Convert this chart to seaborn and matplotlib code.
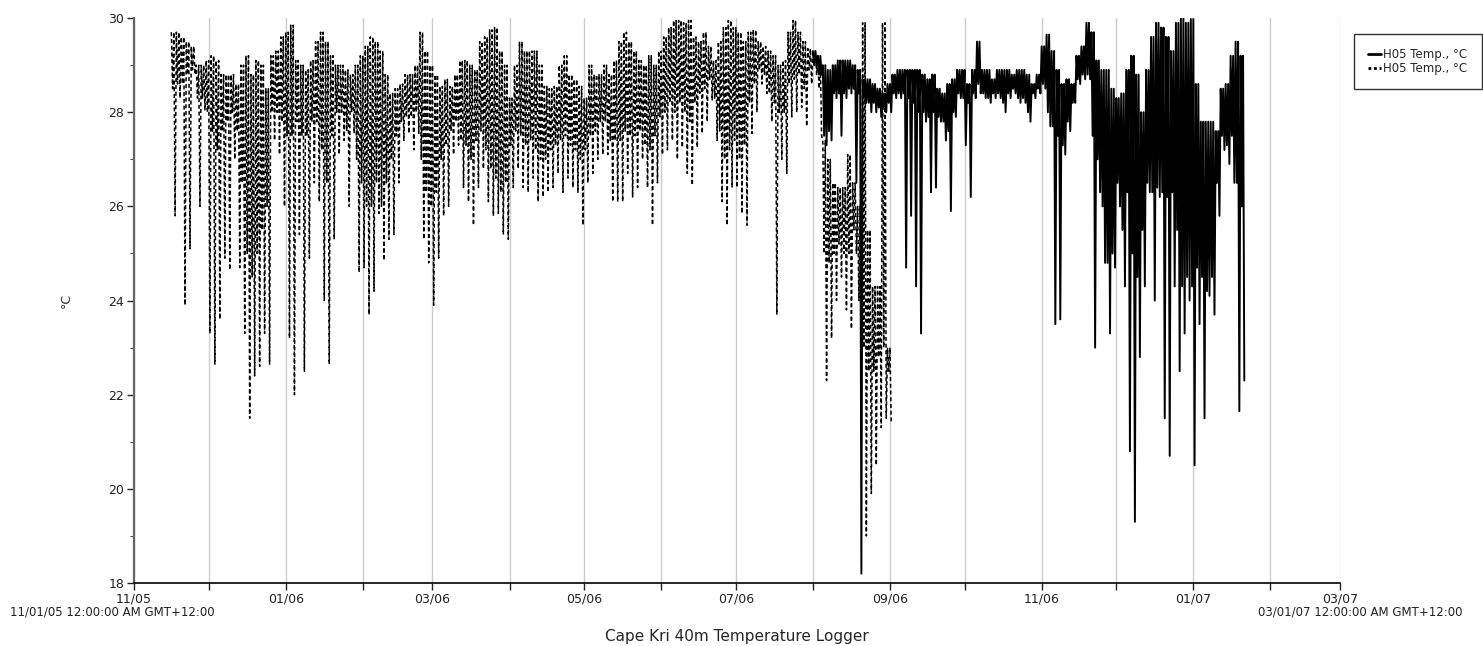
import pandas as pd
import seaborn as sns
import matplotlib.pyplot as plt
import matplotlib.dates as mdates
from matplotlib.ticker import MultipleLocator, FuncFormatter
from matplotlib.lines import Line2D

# ---------- data ----------
# one sample per 2 days: top of the band, bottom of the dense band, lowest dip (deg C)
START = pd.Timestamp("2005-11-01")

DASH_FIRST_DAY = 15  # first logger (dashed), Nov 16 2005 -> Aug 31 2006
dash_hi = [
    29.7, 29.7, 29.6, 29.5, 29.4, 29.0, 29.0, 29.1, 29.2, 29.1,
    28.8, 28.8, 28.8, 28.6, 29.0, 29.2, 28.8, 29.1, 29.0, 28.5,
    29.2, 29.3, 29.6, 29.7, 29.85, 29.1, 29.0, 28.9, 29.1, 29.5,
    29.7, 29.5, 29.2, 29.0, 29.0, 28.9, 28.8, 29.0, 29.2, 29.4,
    29.6, 29.5, 29.3, 28.8, 28.4, 28.5, 28.6, 28.8, 28.8, 29.0,
    29.7, 29.3, 29.0, 28.8, 28.55, 28.7, 28.55, 28.8, 29.1, 29.1,
    29.0, 28.9, 29.5, 29.6, 29.75, 29.8, 29.3, 29.0, 28.3, 29.0,
    29.5, 29.3, 29.3, 29.3, 29.0, 28.55, 28.5, 28.55, 29.0, 29.2,
    28.8, 28.7, 28.55, 28.3, 29.0, 28.8, 28.8, 29.0, 28.8, 29.1,
    29.5, 29.7, 29.5, 29.3, 29.1, 29.0, 29.2, 29.0, 29.3, 29.6,
    29.8, 29.95, 29.95, 29.9, 29.95, 29.6, 29.5, 29.7, 29.4, 29.1,
    29.5, 29.8, 29.95, 29.8, 29.7, 29.5, 29.7, 29.75, 29.5, 29.4,
    29.3, 29.2, 29.0, 29.1, 29.7, 29.95, 29.7, 29.5, 29.35, 29.3,
    29.1, 27.4, 27.0, 26.5, 26.4, 26.4, 27.1, 26.5, 26.0, 29.9,
    25.5, 24.3, 24.3, 29.9, 23.0,
]
dash_mid = [
    28.5, 28.6, 28.6, 28.8, 28.9, 28.3, 28.3, 28.0, 27.6, 27.2,
    27.6, 27.8, 28.0, 27.6, 26.5, 25.0, 24.5, 25.0, 25.5, 26.0,
    28.0, 28.0, 27.8, 27.5, 27.5, 27.8, 27.5, 27.5, 27.8, 27.8,
    27.2, 26.5, 27.5, 28.0, 28.0, 27.6, 28.0, 27.0, 26.5, 26.0,
    26.0, 26.5, 26.0, 26.5, 27.0, 27.5, 27.8, 27.9, 27.9, 28.0,
    27.0, 26.3, 26.0, 26.3, 27.0, 27.3, 27.6, 27.8, 27.4, 27.3,
    27.0, 27.4, 27.6, 27.2, 26.8, 26.6, 26.3, 26.5, 27.3, 27.6,
    27.5, 27.3, 27.4, 27.2, 27.0, 27.0, 27.2, 27.3, 27.4, 27.5,
    27.3, 27.2, 27.0, 27.2, 27.5, 27.6, 27.8, 27.8, 27.4, 27.4,
    27.4, 27.6, 27.5, 27.5, 27.6, 27.3, 27.2, 27.5, 27.9, 28.0,
    28.2, 28.0, 28.2, 28.0, 27.8, 28.2, 28.4, 28.5, 28.7, 28.3,
    27.6, 27.0, 27.2, 27.4, 27.0, 27.3, 28.2, 28.6, 28.9, 28.8,
    28.4, 28.2, 28.0, 28.0, 28.6, 28.7, 28.8, 28.5, 28.9, 29.0,
    28.5, 25.0, 24.8, 25.0, 25.2, 25.0, 25.0, 25.5, 24.0, 23.0,
    22.5, 22.5, 22.8, 23.0, 22.5,
]
dash_lo = [
    25.8, 28.3, 23.9, 25.1, 28.8, 26.0, 28.05, 23.3, 22.65, 23.6,
    24.9, 24.65, 27.0, 24.7, 23.3, 21.5, 22.4, 22.6, 23.3, 22.65,
    27.4, 27.1, 26.0, 23.2, 22.0, 25.4, 22.5, 24.9, 26.5, 26.1,
    24.0, 22.65, 25.3, 27.1, 27.4, 26.0, 27.55, 24.6, 24.7, 23.7,
    24.2, 25.85, 24.85, 25.3, 25.4, 26.5, 27.4, 27.55, 27.2, 27.55,
    25.3, 24.8, 23.9, 24.9, 25.8, 26.0, 27.1, 27.3, 26.4, 26.1,
    25.6, 26.4, 26.8, 26.1, 25.8, 25.85, 25.4, 25.3, 26.4, 26.8,
    26.4, 26.3, 26.6, 26.1, 26.2, 26.3, 26.4, 26.7, 26.3, 26.6,
    26.4, 26.3, 25.6, 26.5, 26.7, 27.0, 27.1, 27.1, 26.1, 26.1,
    26.1, 26.7, 26.2, 26.4, 27.0, 26.4, 25.6, 26.5, 27.1, 27.2,
    27.4, 27.0, 27.25, 26.7, 26.45, 27.25, 27.55, 27.8, 28.25, 27.4,
    26.1, 25.6, 26.4, 26.4, 25.85, 25.6, 27.55, 28.0, 28.6, 28.4,
    27.8, 23.7, 27.0, 26.7, 27.9, 28.0, 28.1, 27.7, 28.6, 28.8,
    27.5, 22.3, 23.2, 24.0, 24.5, 23.8, 23.4, 25.0, 21.0, 19.0,
    19.9, 20.5, 21.3, 21.5, 21.4,
]

SOLID_FIRST_DAY = 273  # second logger (solid), Aug 1 2006 -> Jan 20 2007
solid_hi = [
    29.3, 29.2, 29.0, 28.9, 29.0, 29.1, 29.1, 29.1, 29.0, 28.9,
    28.7, 28.7, 28.6, 28.5, 28.4, 28.6, 28.8, 28.9, 28.9, 28.9,
    28.9, 28.9, 28.8, 28.7, 28.8, 28.5, 28.4, 28.6, 28.7, 28.9,
    28.9, 28.6, 28.9, 29.5, 28.9, 28.9, 28.7, 28.9, 28.9, 28.9,
    28.8, 28.9, 28.9, 28.8, 28.6, 28.8, 29.4, 29.65, 29.3, 28.9,
    28.6, 28.7, 28.6, 29.2, 29.4, 29.9, 29.7, 29.1, 28.9, 28.9,
    28.5, 28.3, 28.4, 28.9, 29.2, 28.8, 28.0, 28.9, 29.6, 29.9,
    29.8, 29.6, 29.3, 29.9, 30.0, 29.9, 29.98, 28.6, 27.8, 27.8,
    27.8, 27.6, 28.5, 28.6, 29.2, 29.5, 29.2,
]
solid_mid = [
    29.0, 28.8, 27.5, 27.6, 28.4, 28.4, 28.4, 28.5, 28.5, 28.4,
    28.3, 28.2, 28.2, 28.1, 28.1, 28.2, 28.4, 28.4, 28.4, 28.3,
    28.2, 28.0, 28.0, 27.9, 28.0, 27.9, 27.8, 27.6, 28.0, 28.4,
    28.3, 28.2, 28.4, 28.6, 28.4, 28.3, 28.4, 28.4, 28.2, 28.4,
    28.5, 28.3, 28.3, 28.0, 28.4, 28.5, 28.6, 28.0, 27.7, 27.5,
    27.3, 27.8, 28.2, 28.7, 28.8, 28.8, 27.5, 27.0, 26.0, 24.8,
    25.0, 26.5, 25.5, 26.3, 25.0, 24.5, 25.5, 26.5, 26.3, 26.4,
    26.3, 26.2, 26.3, 25.5, 24.3, 24.5, 24.3, 24.7, 24.5, 24.2,
    24.5, 26.5, 27.5, 27.3, 27.5, 26.5, 26.0,
]
solid_lo = [
    29.0, 28.8, 27.3, 27.4, 28.3, 27.5, 28.3, 28.4, 26.5, 18.2,
    28.2, 28.0, 28.0, 27.9, 28.0, 28.0, 28.3, 28.3, 24.7, 25.8,
    24.3, 23.3, 27.8, 26.3, 26.4, 27.8, 27.4, 25.9, 27.9, 28.3,
    27.3, 26.2, 28.3, 28.4, 28.3, 28.2, 28.3, 28.3, 28.0, 28.3,
    28.4, 28.2, 28.2, 27.8, 28.3, 28.4, 28.5, 27.7, 23.5, 23.6,
    27.1, 27.6, 28.2, 28.6, 28.7, 28.7, 23.0, 26.3, 24.8, 23.3,
    24.7, 26.0, 24.3, 20.8, 19.3, 22.8, 24.3, 26.3, 24.0, 26.2,
    21.5, 20.7, 24.3, 22.5, 23.3, 24.0, 20.5, 23.5, 21.5, 24.1,
    23.7, 25.8, 27.2, 26.9, 26.5, 21.65, 22.3,
]

LABEL = "H05 Temp., °C"
X_LEFT_NOTE = "11/01/05 12:00:00 AM GMT+12:00"
X_RIGHT_NOTE = "03/01/07 12:00:00 AM GMT+12:00"
TITLE = "Cape Kri 40m Temperature Logger"


def zigzag(first_day, hi, mid, lo):
    # per sample: top -> band bottom -> top -> lowest dip, 12 h apart
    rows = []
    for i, (h, m, l) in enumerate(zip(hi, mid, lo)):
        t0 = START + pd.Timedelta(days=first_day + 2 * i)
        for k, v in enumerate((h, m, h, l)):
            rows.append((t0 + pd.Timedelta(hours=12 * k), v))
    return pd.DataFrame(rows, columns=["time", "temp"])


def main():
    sns.set_style("ticks")
    plt.rcParams["font.family"] = ["DejaVu Sans"]

    dash_df = zigzag(DASH_FIRST_DAY, dash_hi, dash_mid, dash_lo)
    solid_df = zigzag(SOLID_FIRST_DAY, solid_hi, solid_mid, solid_lo)

    fig = plt.figure(figsize=(14.83, 6.46), dpi=100)
    ax = fig.add_axes([0.0904, 0.0975, 0.8132, 0.8745])

    sns.lineplot(data=dash_df, x="time", y="temp", estimator=None, sort=False,
                 color="black", linewidth=1.1, linestyle=(0, (2.6, 1.8)), ax=ax)
    sns.lineplot(data=solid_df, x="time", y="temp", estimator=None, sort=False,
                 color="black", linewidth=1.4, ax=ax)

    ax.set_xlim(START, pd.Timestamp("2007-03-01"))
    ax.set_ylim(18, 30)

    ax.xaxis.set_major_locator(mdates.MonthLocator())
    ax.xaxis.set_major_formatter(FuncFormatter(
        lambda v, pos: mdates.num2date(v).strftime("%m/%y")
        if mdates.num2date(v).month % 2 == 1 else ""))
    ax.yaxis.set_major_locator(MultipleLocator(2))
    ax.yaxis.set_minor_locator(MultipleLocator(1))
    ax.tick_params(axis="both", labelsize=9, length=5, width=1, pad=2, colors="#222222")
    ax.tick_params(axis="y", which="minor", length=3)

    ax.grid(axis="x", color="#cccccc", linewidth=1)
    ax.set_axisbelow(True)
    sns.despine(ax=ax)
    ax.spines["left"].set_color("#666666")
    ax.spines["left"].set_linewidth(1.6)
    ax.spines["bottom"].set_color("black")
    ax.spines["bottom"].set_linewidth(1.2)

    ax.set_xlabel("")
    ax.set_ylabel("°C", fontsize=9, labelpad=26)

    fig.text(10 / 1483, 1 - 612 / 646, X_LEFT_NOTE, ha="left", va="center",
             fontsize=8.5, color="#222222")
    fig.text(1462 / 1483, 1 - 612 / 646, X_RIGHT_NOTE, ha="right", va="center",
             fontsize=8.5, color="#222222")
    fig.text(0.497, 1 - 636 / 646, TITLE, ha="center", va="center", fontsize=11)

    handles = [Line2D([], [], color="black", linewidth=2),
               Line2D([], [], color="black", linewidth=2, linestyle=(0, (1, 1)))]
    leg = fig.legend(handles, [LABEL, LABEL], loc="upper left",
                     bbox_to_anchor=(1348 / 1483, 1 - 28 / 646), fontsize=8.5,
                     handlelength=1.1, handletextpad=0.2, labelspacing=0.1,
                     borderpad=1.2, fancybox=False, frameon=True)
    leg.get_frame().set_edgecolor("black")
    leg.get_frame().set_linewidth(1)

    fig.savefig("out.png", dpi=100)
    plt.close(fig)


if __name__ == "__main__":
    main()
